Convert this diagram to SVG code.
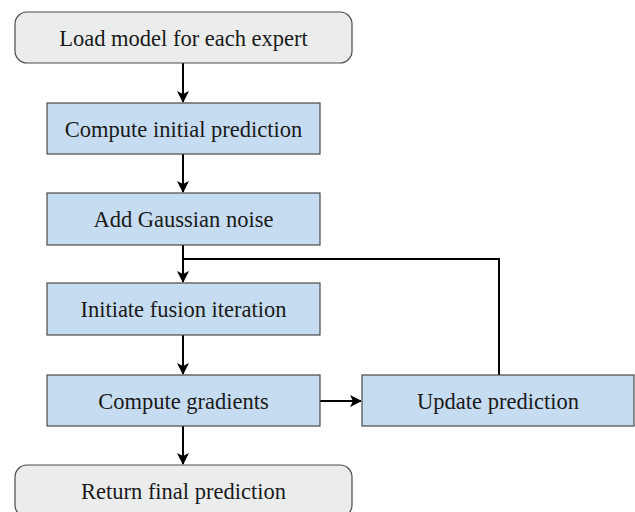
<svg xmlns="http://www.w3.org/2000/svg" width="635" height="512" viewBox="0 0 635 512">
  <style>
    .term { fill: #ebeded; stroke: #4a4a4a; stroke-width: 1.2; }
    .step { fill: #c6dcf0; stroke: #4a4a4a; stroke-width: 1.2; }
    .label { font-family: 'Liberation Serif', serif; font-size: 22.5px; fill: #1a1a1a; text-anchor: middle; dominant-baseline: central; }
    .wire { fill: none; stroke: #000; stroke-width: 2; }
  </style>
  <defs>
    <marker id="arrow" viewBox="0 0 12 12" refX="11" refY="6" markerWidth="12" markerHeight="12" markerUnits="userSpaceOnUse" orient="auto">
      <path d="M0,0 L12,6 L0,12 L3,6 Z" fill="#000"/>
    </marker>
  </defs>

  <g id="connectors">
    <line class="wire" x1="183" y1="63" x2="183" y2="102" marker-end="url(#arrow)"/>
    <line class="wire" x1="183" y1="154" x2="183" y2="192" marker-end="url(#arrow)"/>
    <line class="wire" x1="183" y1="245" x2="183" y2="282" marker-end="url(#arrow)"/>
    <line class="wire" x1="183" y1="335" x2="183" y2="374" marker-end="url(#arrow)"/>
    <line class="wire" x1="183" y1="426" x2="183" y2="464" marker-end="url(#arrow)"/>
    <line class="wire" x1="320" y1="401" x2="361" y2="401" marker-end="url(#arrow)"/>
    <polyline class="wire" points="499,375 499,259 183,259"/>
  </g>

  <g id="load-model">
    <rect class="term" x="15" y="12" width="337" height="51" rx="12"/>
    <text class="label" x="183.5" y="38">Load model for each expert</text>
  </g>
  <g id="initial-prediction">
    <rect class="step" x="47" y="103" width="273" height="51"/>
    <text class="label" x="183.5" y="129">Compute initial prediction</text>
  </g>
  <g id="gaussian-noise">
    <rect class="step" x="47" y="193" width="273" height="52"/>
    <text class="label" x="183.5" y="219">Add Gaussian noise</text>
  </g>
  <g id="fusion-iteration">
    <rect class="step" x="47" y="283" width="273" height="52"/>
    <text class="label" x="183.5" y="309">Initiate fusion iteration</text>
  </g>
  <g id="compute-gradients">
    <rect class="step" x="47" y="375" width="273" height="51"/>
    <text class="label" x="183.5" y="401">Compute gradients</text>
  </g>
  <g id="update-prediction">
    <rect class="step" x="362" y="375" width="272" height="51"/>
    <text class="label" x="498" y="401">Update prediction</text>
  </g>
  <g id="final-prediction">
    <rect class="term" x="15" y="465" width="337" height="52" rx="12"/>
    <text class="label" x="183.5" y="491">Return final prediction</text>
  </g>
</svg>
